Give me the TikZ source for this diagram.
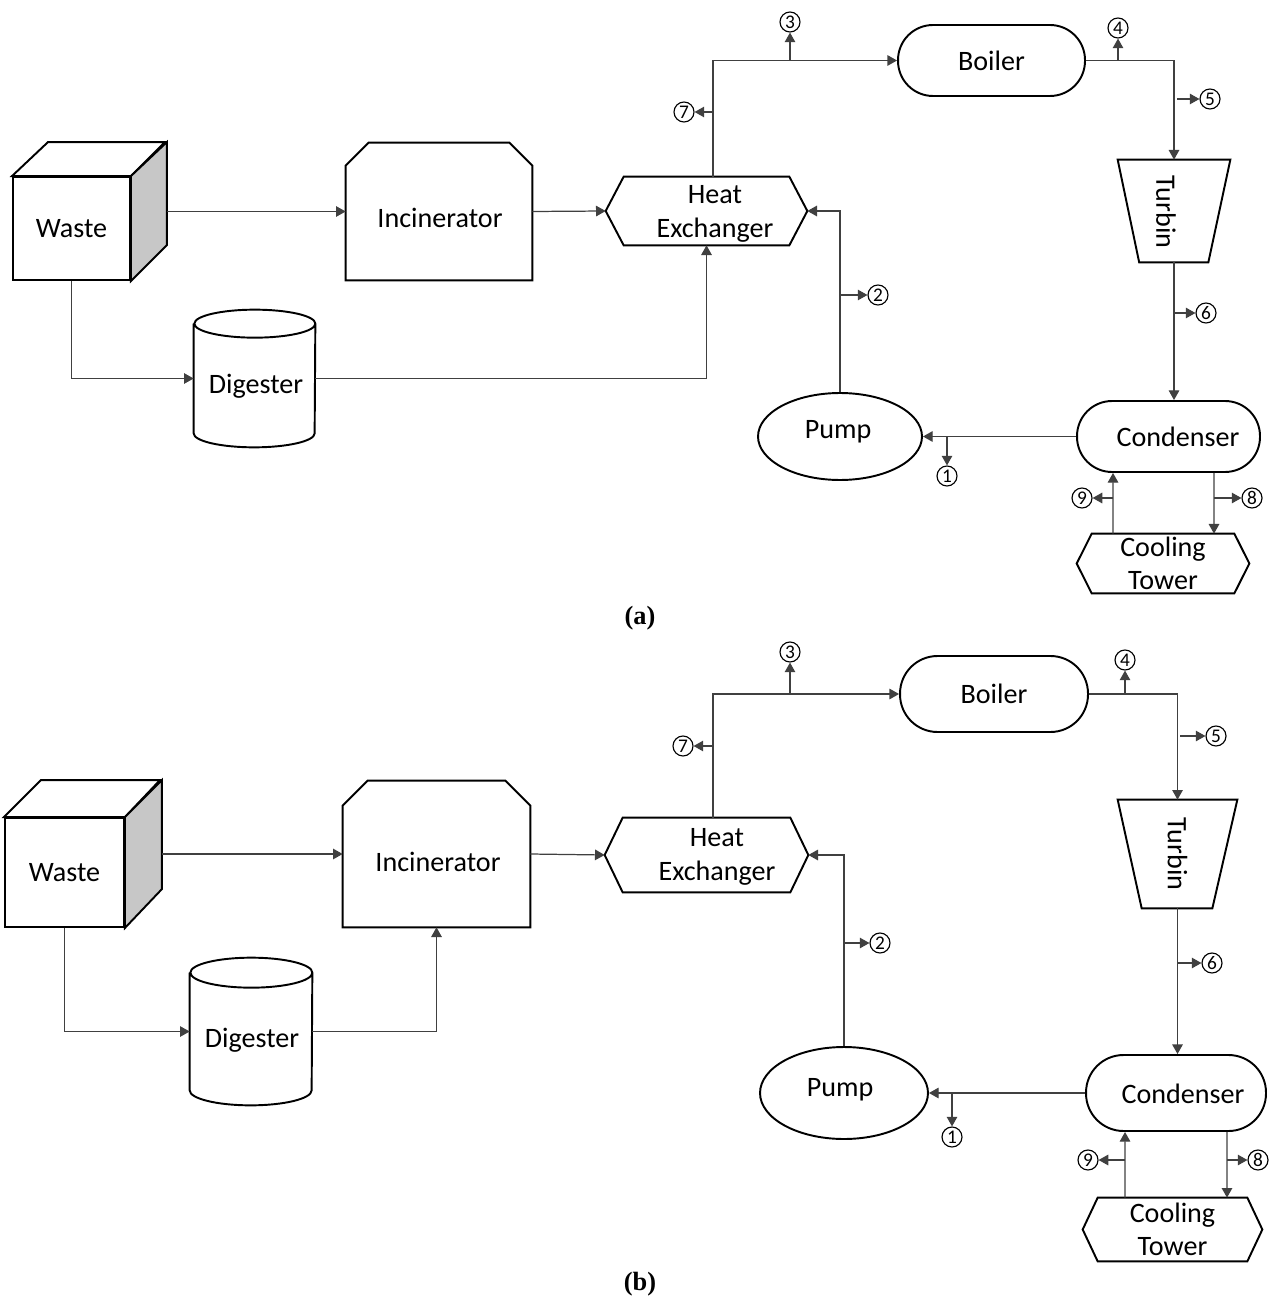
\documentclass[tikz,border=0pt]{standalone}
\usepackage{fontspec}
\usepackage{graphicx}
\setmainfont{Carlito}
\newfontfamily\capfont{Liberation Serif}
\usetikzlibrary{arrows.meta,shapes.geometric,calc}
\colorlet{cubegray}{black!22}

\begin{document}
\begin{tikzpicture}[x=0.02cm, y=-0.02cm,
		unit/.style={line width=1.1pt},
		box/.style={inner sep=0pt, font=\fontsize{16}{19}\selectfont, align=center},
		flow/.style={draw=black!75, line width=0.7pt, -{Triangle[length=5.5pt,width=6pt]}},
		num/.style={draw, circle, inner sep=0pt, minimum size=0.4cm, line width=0.65pt, font=\fontsize{11}{11}\selectfont},
		caption/.style={font=\capfont\bfseries\fontsize{15}{15}\selectfont}]
		\useasboundingbox (0,0) rectangle (1269,1300);
		
		% (a)
		\node[box, draw, unit, minimum width=2.34cm, minimum height=2.06cm] (wasteA) at (71.5,228.5) {Waste};
		\draw[unit] (wasteA.north west) -- ++(0.72cm,0.68cm) -- ++(2.34cm,0cm) -- (wasteA.north east) -- cycle;
		\draw[unit, fill=cubegray] (wasteA.north east) -- ++(0.72cm,0.68cm) -- ++(0cm,-2.06cm) -- (wasteA.south east) -- cycle;
		
		\node[box, minimum width=3.72cm, minimum height=2.74cm] (incA) at (439,211.5) {};
		\node[box] (incAtext) at (440,218) {Incinerator};
		\draw[unit] (incA.south west) -- ([yshift=-0.46cm]incA.north west) -- ([xshift=0.46cm]incA.north west) -- ([xshift=-0.46cm]incA.north east) -- ([yshift=-0.46cm]incA.north east) -- (incA.south east) -- cycle;
		
		\node[box, minimum width=2.42cm, minimum height=2.74cm] (digA) at (254.5,378.5) {};
		\node[box] (digAtext) at (256,386) {Digester};
		\draw[unit] ([yshift=-0.28cm]digA.north west) -- ([yshift=0.28cm]digA.south west) arc[start angle=180, end angle=360, x radius=1.21cm, y radius=0.28cm] -- ([yshift=-0.28cm]digA.north east) arc[start angle=0, end angle=360, x radius=1.21cm, y radius=0.28cm];
		
		\node[box, minimum width=4.02cm, minimum height=1.36cm] (heA) at (706.5,211) {};
		\node[box] (heAtext) at (715,214) {Heat\\Exchanger};
		\draw[unit] (heA.west) -- ([xshift=0.36cm]heA.north west) -- ([xshift=-0.36cm]heA.north east) -- (heA.east) -- ([xshift=-0.36cm]heA.south east) -- ([xshift=0.36cm]heA.south west) -- cycle;
		
		\node[box, draw, unit, rounded corners=0.7cm, minimum width=3.74cm, minimum height=1.42cm] (boilA) at (991.5,60.5) {Boiler};
		
		\node[box, minimum width=2.24cm, minimum height=2.04cm] (turbA) at (1174,211) {};
		\node[box] (turbAtext) at (1166,212) {\rotatebox{-90}{Turbin}};
		\draw[unit] (turbA.north west) -- (turbA.north east) -- ([xshift=-0.44cm]turbA.south east) -- ([xshift=0.43cm]turbA.south west) -- cycle;
		
		\node[box, draw, unit, rounded corners=0.7cm, minimum width=3.66cm, minimum height=1.42cm] (condA) at (1168.5,436.5) {};
		\node[box] (condAtext) at (1178,437) {Condenser};
		\node[box, draw, unit, ellipse, minimum width=3.28cm, minimum height=1.74cm] (pumpA) at (840,436.5) {};
		\node[box] (pumpAtext) at (838,432) {Pump};
		
		\node[box, minimum width=3.44cm, minimum height=1.18cm] (coolA) at (1163,563.5) {Cooling\\Tower};
		\draw[unit] (coolA.west) -- ([xshift=0.3cm]coolA.north west) -- ([xshift=-0.3cm]coolA.north east) -- (coolA.east) -- ([xshift=-0.3cm]coolA.south east) -- ([xshift=0.3cm]coolA.south west) -- cycle;
		
		\draw[flow] ($(wasteA.east |- incA.west)+(36,0)$) -- (incA.west);
		\draw[flow] (wasteA.south) |- (digA.west);
		\draw[flow] (incA.east) -- (heA.west);
		\draw[flow] (digA.east) -| (heA.south);
		\draw[flow] ([xshift=0.13cm]heA.north) |- (boilA.west);
		\draw[flow] (boilA.east) -| (turbA.north);
		\draw[flow] (turbA.south) -- (turbA.south |- condA.north);
		\draw[flow] (condA.west) -- (pumpA.east);
		\draw[flow] (pumpA.north) |- (heA.east);
		\draw[flow] ([xshift=-1.0cm]coolA.north) -- ([xshift=-1.11cm]condA.south);
		\draw[flow] ([xshift=0.91cm]condA.south) -- ([xshift=1.02cm]coolA.north);
		
		\node[num] (n1A) at (947,476) {1};
		\node[num] (n2A) at (878,295) {2};
		\node[num] (n3A) at (790,22) {3};
		\node[num] (n4A) at (1118,28) {4};
		\node[num] (n5A) at (1210,99) {5};
		\node[num] (n6A) at (1206,313) {6};
		\node[num] (n7A) at (684,112) {7};
		\node[num] (n8A) at (1252,498) {8};
		\node[num] (n9A) at (1082,498) {9};
		\coordinate (b1A) at (947,436.5);
		\coordinate (b2A) at (840,295);
		\coordinate (b3A) at (790,60.5);
		\coordinate (b4A) at (1118,60.5);
		\coordinate (b5A) at (1177,99);
		\coordinate (b6A) at (1174,313);
		\coordinate (b7A) at (713,112);
		\coordinate (b8A) at (1214,498);
		\coordinate (b9A) at (1113,498);
		\draw[flow] (b1A) -- (n1A);
		\draw[flow] (b2A) -- (n2A);
		\draw[flow] (b3A) -- (n3A);
		\draw[flow] (b4A) -- (n4A);
		\draw[flow] (b5A) -- (n5A);
		\draw[flow] (b6A) -- (n6A);
		\draw[flow] (b7A) -- (n7A);
		\draw[flow] (b8A) -- (n8A);
		\draw[flow] (b9A) -- (n9A);
		
		\node[caption] (capA) at (640,618) {(a)};
		
		% (b)
		\node[box, draw, unit, minimum width=2.38cm, minimum height=2.18cm] (wasteB) at (64.5,872.5) {Waste};
		\draw[unit] (wasteB.north west) -- ++(0.74cm,0.74cm) -- ++(2.38cm,0cm) -- (wasteB.north east) -- cycle;
		\draw[unit, fill=cubegray] (wasteB.north east) -- ++(0.74cm,0.74cm) -- ++(0cm,-2.18cm) -- (wasteB.south east) -- cycle;
		
		\node[box, minimum width=3.74cm, minimum height=2.92cm] (incB) at (436.5,854) {};
		\node[box] (incBtext) at (438,862) {Incinerator};
		\draw[unit] (incB.south west) -- ([yshift=-0.5cm]incB.north west) -- ([xshift=0.5cm]incB.north west) -- ([xshift=-0.5cm]incB.north east) -- ([yshift=-0.5cm]incB.north east) -- (incB.south east) -- cycle;
		
		\node[box, minimum width=2.44cm, minimum height=2.94cm] (digB) at (251,1031.5) {};
		\node[box] (digBtext) at (252,1040) {Digester};
		\draw[unit] ([yshift=-0.3cm]digB.north west) -- ([yshift=0.3cm]digB.south west) arc[start angle=180, end angle=360, x radius=1.22cm, y radius=0.3cm] -- ([yshift=-0.3cm]digB.north east) arc[start angle=0, end angle=360, x radius=1.22cm, y radius=0.3cm];
		
		\node[box, minimum width=4.06cm, minimum height=1.48cm] (heB) at (706.5,855) {};
		\node[box] (heBtext) at (717,857) {Heat\\Exchanger};
		\draw[unit] (heB.west) -- ([xshift=0.36cm]heB.north west) -- ([xshift=-0.36cm]heB.north east) -- (heB.east) -- ([xshift=-0.36cm]heB.south east) -- ([xshift=0.36cm]heB.south west) -- cycle;
		
		\node[box, draw, unit, rounded corners=0.75cm, minimum width=3.76cm, minimum height=1.52cm] (boilB) at (994,694) {Boiler};
		
		\node[box, minimum width=2.38cm, minimum height=2.16cm] (turbB) at (1177.5,854) {\rotatebox{-90}{Turbin}};
		\draw[unit] (turbB.north west) -- (turbB.north east) -- ([xshift=-0.5cm]turbB.south east) -- ([xshift=0.48cm]turbB.south west) -- cycle;
		
		\node[box, draw, unit, rounded corners=0.75cm, minimum width=3.6cm, minimum height=1.52cm] (condB) at (1176,1093) {};
		\node[box] (condBtext) at (1183,1094) {Condenser};
		\node[box, draw, unit, ellipse, minimum width=3.36cm, minimum height=1.84cm] (pumpB) at (844,1093) {};
		\node[box] (pumpBtext) at (840,1090) {Pump};
		
		\node[box, minimum width=3.58cm, minimum height=1.26cm] (coolB) at (1172.5,1229.5) {Cooling\\Tower};
		\draw[unit] (coolB.west) -- ([xshift=0.3cm]coolB.north west) -- ([xshift=-0.3cm]coolB.north east) -- (coolB.east) -- ([xshift=-0.3cm]coolB.south east) -- ([xshift=0.3cm]coolB.south west) -- cycle;
		
		\draw[flow] ($(wasteB.east |- incB.west)+(37,0)$) -- (incB.west);
		\draw[flow] (wasteB.south) |- (digB.west);
		\draw[flow] (digB.east) -| (incB.south);
		\draw[flow] (incB.east) -- (heB.west);
		\draw[flow] ([xshift=0.13cm]heB.north) |- (boilB.west);
		\draw[flow] (boilB.east) -| (turbB.north);
		\draw[flow] (turbB.south) -- (turbB.south |- condB.north);
		\draw[flow] (condB.west) -- (pumpB.east);
		\draw[flow] (pumpB.north) |- (heB.east);
		\draw[flow] ([xshift=-0.95cm]coolB.north) -- ([xshift=-1.02cm]condB.south);
		\draw[flow] ([xshift=1.02cm]condB.south) -- ([xshift=1.09cm]coolB.north);
		
		\node[num] (n1B) at (952,1137) {1};
		\node[num] (n2B) at (880,943) {2};
		\node[num] (n3B) at (790,652) {3};
		\node[num] (n4B) at (1125,660) {4};
		\node[num] (n5B) at (1216,736) {5};
		\node[num] (n6B) at (1212,963) {6};
		\node[num] (n7B) at (683,746) {7};
		\node[num] (n8B) at (1258,1160) {8};
		\node[num] (n9B) at (1088,1160) {9};
		\coordinate (b1B) at (952,1093);
		\coordinate (b2B) at (844,943);
		\coordinate (b3B) at (790,694);
		\coordinate (b4B) at (1125,694);
		\coordinate (b5B) at (1180,736);
		\coordinate (b6B) at (1177.5,963);
		\coordinate (b7B) at (713,746);
		\coordinate (b8B) at (1227,1160);
		\coordinate (b9B) at (1125,1160);
		\draw[flow] (b1B) -- (n1B);
		\draw[flow] (b2B) -- (n2B);
		\draw[flow] (b3B) -- (n3B);
		\draw[flow] (b4B) -- (n4B);
		\draw[flow] (b5B) -- (n5B);
		\draw[flow] (b6B) -- (n6B);
		\draw[flow] (b7B) -- (n7B);
		\draw[flow] (b8B) -- (n8B);
		\draw[flow] (b9B) -- (n9B);
		
		\node[caption] (capB) at (640,1284) {(b)};
\end{tikzpicture}
\end{document}
